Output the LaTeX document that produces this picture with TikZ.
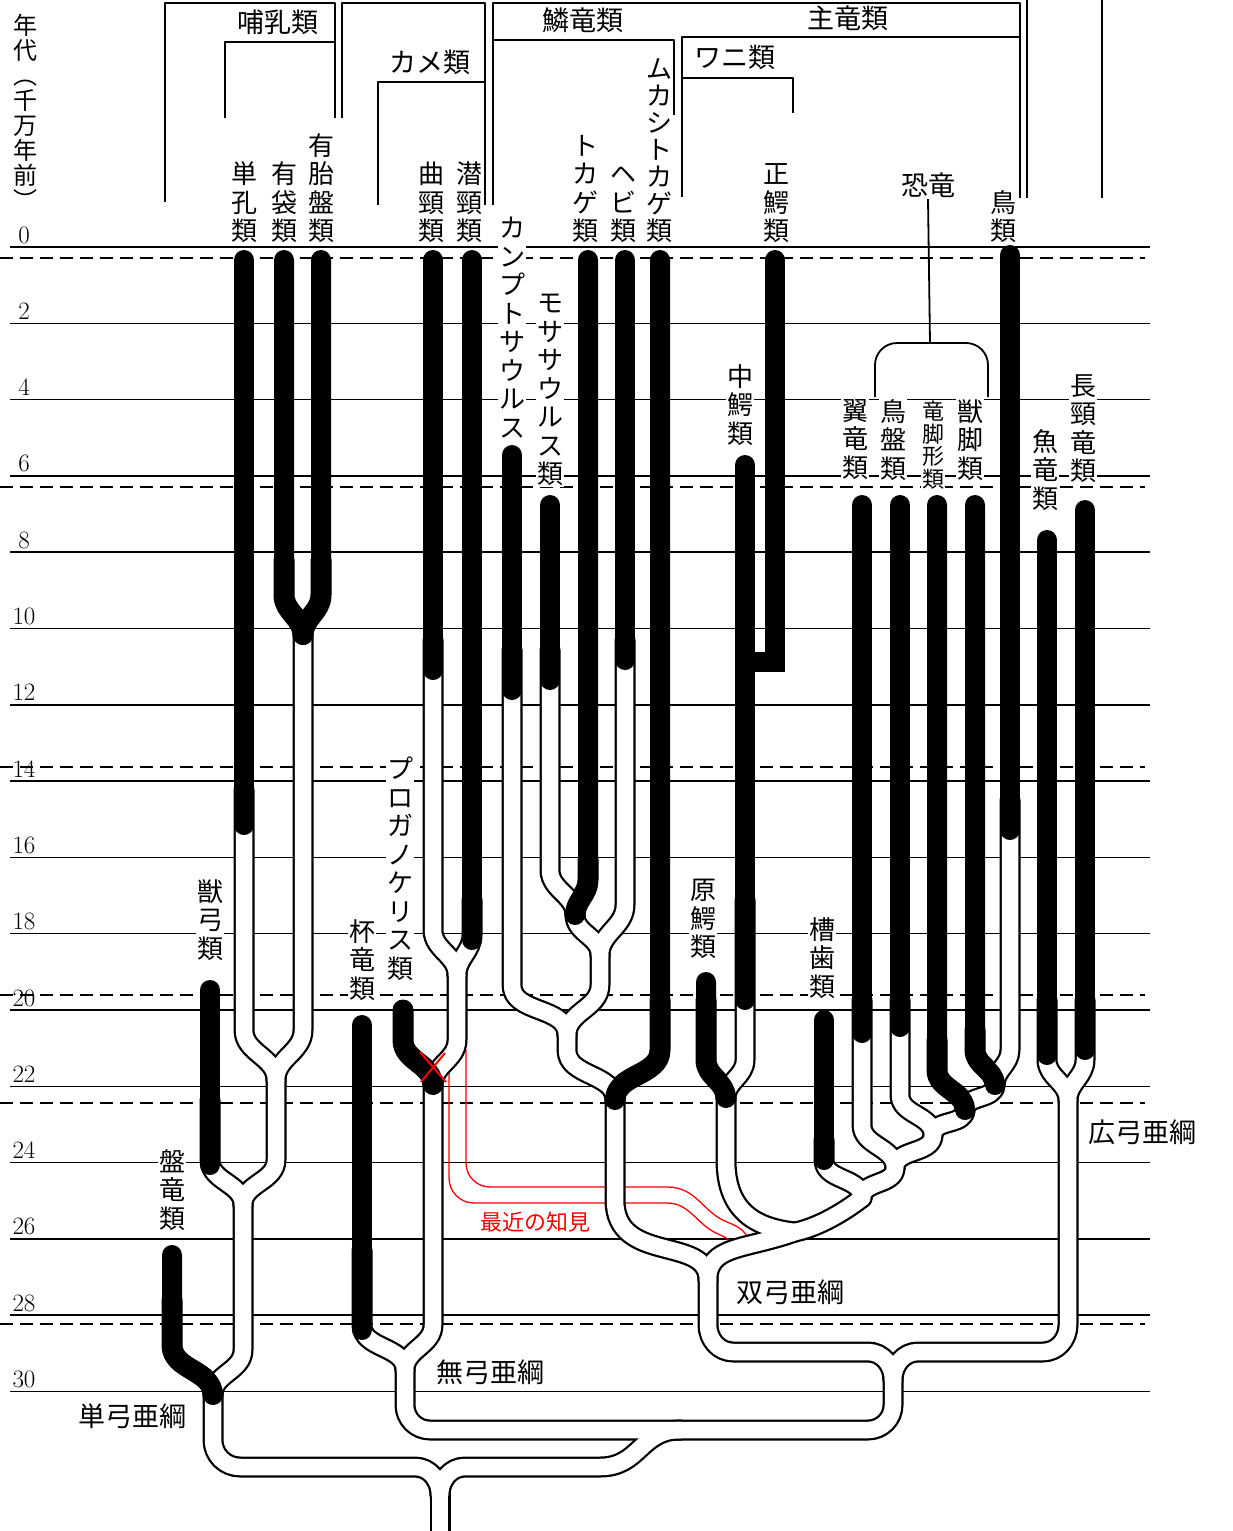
\documentclass[tikz,border=0pt]{standalone}
\usepackage{fontspec}
\newfontfamily\jpfont{Noto Sans CJK JP}

\tikzset{
  gridline/.style={line width=1.5pt},
  dashline/.style={line width=1.8pt, dash pattern=on 13pt off 7pt},
  bracket/.style={line width=1.8pt},
  blackbar/.style={line width=20pt, line cap=round},
  numlabel/.style={font=\fontsize{25}{25}\selectfont, anchor=base, inner sep=0pt},
  vlabel/.style={font=\jpfont\fontsize{26}{28.5}\selectfont, align=center, fill=white, inner sep=1pt},
  hlabel/.style={font=\jpfont\fontsize{27}{30}\selectfont, fill=white, inner sep=1.5pt},
  newline/.style={red, line width=1.3pt},
}

\begin{document}
\begin{tikzpicture}[x=1pt, y=1pt, line join=round]
		\useasboundingbox (0,0) rectangle (1232,-1531);
		
		% time grid
		\foreach \k [evaluate=\k as \yy using -247-76.3*\k,
		             evaluate=\k as \num using int(2*\k)] in {0,...,15} {
			\draw[gridline] (10,\yy) -- (1150,\yy);
			\node[numlabel] (n\k) at (24,{\yy+4}) {\num};
		}
		\foreach \yy in {258,487,767,995,1103,1324}
			\draw[dashline] (0,-\yy) -- (1145,-\yy);
		
		% recent finding (red double line)
		\draw[newline] (466,-1050) -- (466,-1163) to[out=-90,in=180] (490,-1187) -- (667,-1187)
			.. controls (697,-1187) and (702,-1212) .. (727,-1222)
			.. controls (745,-1229) and (750,-1235) .. (751,-1255);
		\draw[newline] (449,-1050) -- (449,-1178) to[out=-90,in=180] (474,-1203) -- (667,-1203)
			.. controls (690,-1203) and (697,-1225) .. (718,-1234)
			.. controls (730,-1239) and (735,-1243) .. (736,-1255);
		
		% branching points
		\coordinate (mam1) at (303,-635);
		\coordinate (mam2) at (276,-1080);
		\coordinate (syn1) at (243,-1205);
		\coordinate (syn0) at (213,-1395);
		\coordinate (root) at (440,-1495);
		\coordinate (tur1) at (457,-975);
		\coordinate (tur0) at (433,-1085);
		\coordinate (ana) at (405,-1370);
		\coordinate (rep) at (680,-1430);
		\coordinate (neo) at (893,-1380);
		\coordinate (diap) at (708,-1280);
		\coordinate (eury) at (1068,-1100);
		\coordinate (lepA) at (575,-915);
		\coordinate (lepB) at (600,-955);
		\coordinate (lepC) at (567,-1035);
		\coordinate (lepD) at (615,-1100);
		\coordinate (arch) at (795,-1232);
		\coordinate (crc) at (726,-1098);
		\coordinate (dn1) at (995,-1085);
		\coordinate (dn2) at (965,-1110);
		\coordinate (dn3) at (933,-1135);
		\coordinate (dn4) at (895,-1168);
		\coordinate (dn5) at (862,-1198);
		
		% tubes: outline first, then the white inside
		\foreach \lw/\col in {21/black,16.5/white} {
			\begin{scope}[line width=\lw pt, draw=\col, line cap=round]
				% synapsids
				\draw (244,-790) -- (244,-1030) to[out=-90,in=90] (mam2);
				\draw (284,-560) -- (284,-595) to[out=-90,in=90] (mam1);
				\draw (321,-560) -- (321,-595) to[out=-90,in=90] (mam1);
				\draw (mam1) -- (303,-1030) to[out=-90,in=90] (mam2);
				\draw (mam2) -- (276,-1160) to[out=-90,in=90] (syn1);
				\draw (210,-1100) -- (210,-1160) to[out=-90,in=90] (syn1);
				\draw (syn1) -- (243,-1350) to[out=-90,in=90] (syn0);
				\draw (172,-1300) -- (172,-1345) to[out=-90,in=90] (syn0);
				\draw (syn0) -- (213,-1440) to[out=-90,in=180] (240,-1467) -- (415,-1467) to[out=0,in=90] (root);
				\draw (root) -- (440,-1545);
				\draw (root) to[out=90,in=180] (465,-1467) -- (600,-1467)
					.. controls (640,-1467) and (640,-1430) .. (rep);
				% anapsids
				\draw (433,-640) -- (433,-930) to[out=-90,in=90] (tur1);
				\draw (472,-900) -- (472,-935) to[out=-90,in=90] (tur1);
				\draw (tur1) -- (457,-1040) to[out=-90,in=90] (tur0);
				\draw (403,-1010) -- (403,-1040) to[out=-90,in=90] (tur0);
				\draw (tur0) -- (433,-1325) to[out=-90,in=90] (ana);
				\draw (362,-1250) -- (362,-1325) to[out=-90,in=90] (ana);
				\draw (ana) -- (405,-1405) to[out=-90,in=180] (430,-1430) -- (rep);
				% diapsids and euryapsids
				\draw (rep) -- (868,-1430) to[out=0,in=-90] (893,-1405) -- (neo);
				\draw (diap) -- (708,-1325) to[out=-90,in=180] (733,-1352) -- (868,-1352) to[out=0,in=90] (neo);
				\draw (eury) -- (1068,-1325) to[out=-90,in=0] (1043,-1352) -- (918,-1352) to[out=180,in=90] (neo);
				\draw (1047,-1000) -- (1047,-1060) to[out=-90,in=90] (eury);
				\draw (1085,-1000) -- (1085,-1060) to[out=-90,in=90] (eury);
				% lepidosaurs
				\draw (550,-650) -- (550,-870) to[out=-90,in=90] (lepA);
				\draw (588,-860) -- (588,-880) to[out=-90,in=90] (lepA);
				\draw (lepA) to[out=-90,in=90] (lepB);
				\draw (625,-640) -- (625,-905) to[out=-90,in=90] (lepB);
				\draw (lepB) -- (600,-985) to[out=-90,in=90] (lepC);
				\draw (512,-650) -- (512,-985) to[out=-90,in=90] (lepC);
				\draw (lepC) -- (567,-1050) to[out=-90,in=90] (lepD);
				\draw (660,-1000) -- (660,-1050) to[out=-90,in=90] (lepD);
				\draw (lepD) -- (615,-1200) .. controls (615,-1265) and (708,-1235) .. (diap);
				% archosaurs
				\draw (arch) .. controls (745,-1250) and (708,-1245) .. (diap);
				\draw (745,-900) -- (745,-1060) to[out=-90,in=90] (crc);
				\draw (706,-1000) -- (706,-1060) to[out=-90,in=90] (crc);
				\draw (crc) -- (726,-1160) .. controls (726,-1215) and (760,-1228) .. (arch);
				\draw (824,-1140) -- (824,-1160) to[out=-90,in=90] (dn5);
				\draw (dn5) .. controls (840,-1215) and (815,-1228) .. (arch);
				\draw (862,-1000) -- (862,-1125) to[out=-90,in=90] (dn4);
				\draw (dn4) to[out=-90,in=90] (dn5);
				\draw (900,-1000) -- (900,-1095) to[out=-90,in=90] (dn3);
				\draw (dn3) to[out=-90,in=90] (dn4);
				\draw (937,-1040) -- (937,-1070) to[out=-90,in=90] (dn2);
				\draw (dn2) to[out=-90,in=90] (dn3);
				\draw (975,-1030) -- (975,-1050) to[out=-90,in=90] (dn1);
				\draw (1010,-800) -- (1010,-1050) to[out=-90,in=90] (dn1);
				\draw (dn1) to[out=-90,in=90] (dn2);
			\end{scope}
		}
		
		% fossil record (black bars)
		\draw[blackbar] (244,-260) -- (244,-825);
		\draw[blackbar] (284,-260) -- (284,-595) to[out=-90,in=90] (mam1);
		\draw[blackbar] (321,-260) -- (321,-595) to[out=-90,in=90] (mam1);
		\draw[blackbar] (210,-990) -- (210,-1165);
		\draw[blackbar] (172,-1255) -- (172,-1345) to[out=-90,in=90] (syn0);
		\draw[blackbar] (362,-1025) -- (362,-1330);
		\draw[blackbar] (403,-1010) -- (403,-1040) to[out=-90,in=90] (tur0);
		\draw[blackbar] (433,-260) -- (433,-670);
		\draw[blackbar] (472,-260) -- (472,-940);
		\draw[blackbar] (512,-455) -- (512,-690);
		\draw[blackbar] (550,-505) -- (550,-680);
		\draw[blackbar] (588,-260) -- (588,-880) to[out=-90,in=90] (lepA);
		\draw[blackbar] (625,-260) -- (625,-660);
		\draw[blackbar] (660,-260) -- (660,-1050) to[out=-90,in=90] (lepD);
		\draw[blackbar, line join=miter] (775,-260) -- (775,-662) -- (748,-662);
		\draw[blackbar] (745,-465) -- (745,-1000);
		\draw[blackbar] (706,-982) -- (706,-1060) to[out=-90,in=90] (crc);
		\draw[blackbar] (824,-1020) -- (824,-1160);
		\draw[blackbar] (862,-505) -- (862,-1033);
		\draw[blackbar] (900,-505) -- (900,-1027);
		\draw[blackbar] (937,-505) -- (937,-1070) to[out=-90,in=90] (dn2);
		\draw[blackbar] (975,-505) -- (975,-1050) to[out=-90,in=90] (dn1);
		\draw[blackbar] (1010,-255) -- (1010,-830);
		\draw[blackbar] (1047,-540) -- (1047,-1055);
		\draw[blackbar] (1085,-510) -- (1085,-1050);
		
		% group labels, vertical
		\node[vlabel, anchor=south] (lMono) at (244,-244) {単\\孔\\類};
		\node[vlabel, anchor=south] (lMars) at (284,-244) {有\\袋\\類};
		\node[vlabel, anchor=south] (lPlac) at (321,-244) {有\\胎\\盤\\類};
		\node[vlabel, anchor=south] (lPleu) at (431,-244) {曲\\頸\\類};
		\node[vlabel, anchor=south] (lCryp) at (469,-244) {潜\\頸\\類};
		\node[vlabel, anchor=south] (lLiz) at (585,-244) {ト\\カ\\ゲ\\類};
		\node[vlabel, anchor=south] (lSnake) at (623,-244) {ヘ\\ビ\\類};
		\node[vlabel, anchor=south, font=\jpfont\fontsize{26}{27}\selectfont] (lTuat) at (659,-244) {ム\\カ\\シ\\ト\\カ\\ゲ\\類};
		\node[vlabel, anchor=south] (lCroc) at (776,-244) {正\\鰐\\類};
		\node[vlabel, anchor=south] (lBird) at (1003,-244) {鳥\\類};
		\node[vlabel, anchor=north] (lCamp) at (512,-216) {カ\\ン\\プ\\ト\\サ\\ウ\\ル\\ス};
		\node[vlabel, anchor=north] (lMosa) at (550,-293) {モ\\サ\\サ\\ウ\\ル\\ス\\類};
		\node[vlabel, anchor=north] (lMeso) at (740,-363) {中\\鰐\\類};
		\node[vlabel, anchor=north] (lPter) at (855,-398) {翼\\竜\\類};
		\node[vlabel, anchor=north] (lOrni) at (893,-398) {鳥\\盤\\類};
		\node[vlabel, anchor=north, font=\jpfont\fontsize{22}{22.5}\selectfont] (lSaur) at (933,-400) {竜\\脚\\形\\類};
		\node[vlabel, anchor=north] (lTher) at (970,-398) {獣\\脚\\類};
		\node[vlabel, anchor=north] (lIchth) at (1045,-428) {魚\\竜\\類};
		\node[vlabel, anchor=north] (lPlesi) at (1083,-373) {長\\頸\\竜\\類};
		\node[vlabel, anchor=north] (lTherap) at (210,-878) {獣\\弓\\類};
		\node[vlabel, anchor=north] (lPely) at (172,-1148) {盤\\竜\\類};
		\node[vlabel, anchor=north] (lCapt) at (362,-918) {杯\\竜\\類};
		\node[vlabel, anchor=north] (lProg) at (400,-756) {プ\\ロ\\ガ\\ノ\\ケ\\リ\\ス\\類};
		\node[vlabel, anchor=north] (lProt) at (703,-878) {原\\鰐\\類};
		\node[vlabel, anchor=north] (lThec) at (822,-916) {槽\\歯\\類};
		\node[vlabel, anchor=center, font=\jpfont\fontsize{24}{25}\selectfont, fill=none] (lAxis) at (25,-112) {年\\代\\︵\\千\\万\\年\\前\\︶};
		
		% group labels, horizontal
		\node[hlabel] (tMam) at (278,-22) {哺乳類};
		\node[hlabel] (tTurt) at (430,-62) {カメ類};
		\node[hlabel] (tLep) at (583,-20) {鱗竜類};
		\node[hlabel] (tArch) at (848,-18) {主竜類};
		\node[hlabel] (tCroc) at (735,-57) {ワニ類};
		\node[hlabel] (tDino) at (928,-185) {恐竜};
		\node[hlabel] (tSyn) at (132,-1416) {単弓亜綱};
		\node[hlabel] (tAna) at (490,-1372) {無弓亜綱};
		\node[hlabel] (tDia) at (790,-1292) {双弓亜綱};
		\node[hlabel] (tEury) at (1142,-1132) {広弓亜綱};
		\node[hlabel, text=red, font=\jpfont\fontsize{22}{24}\selectfont] (tNew) at (535,-1222) {最近の知見};
		
		% brackets on top
		\draw[bracket] (165,-202) |- (335,-3) -- (335,-118);
		\draw[bracket] (225,-118) |- (335,-42);
		\draw[bracket] (342,-118) |- (485,-3) -- (485,-205);
		\draw[bracket] (378,-205) |- (485,-82);
		\draw[bracket] (493,-205) |- (1020,-3) -- (1020,-198);
		\draw[bracket] (493,-40) -| (674,-115);
		\draw[bracket] (682,-197) |- (1020,-37);
		\draw[bracket] (682,-78) -| (793,-113);
		\draw[bracket] (1027,0) -- (1027,-198);
		\draw[bracket] (1102,0) -- (1102,-198);
		\draw[bracket] (tDino.south) -- (930,-343);
		\draw[bracket, rounded corners=22pt] (875,-397) |- (930,-343) -| (988,-397);
		
		% crossed out junction
		\draw[red, line width=2pt] (420,-1052) -- (446,-1082);
		\draw[red, line width=2pt] (421,-1082) -- (445,-1053);
	\end{tikzpicture}
\end{document}
